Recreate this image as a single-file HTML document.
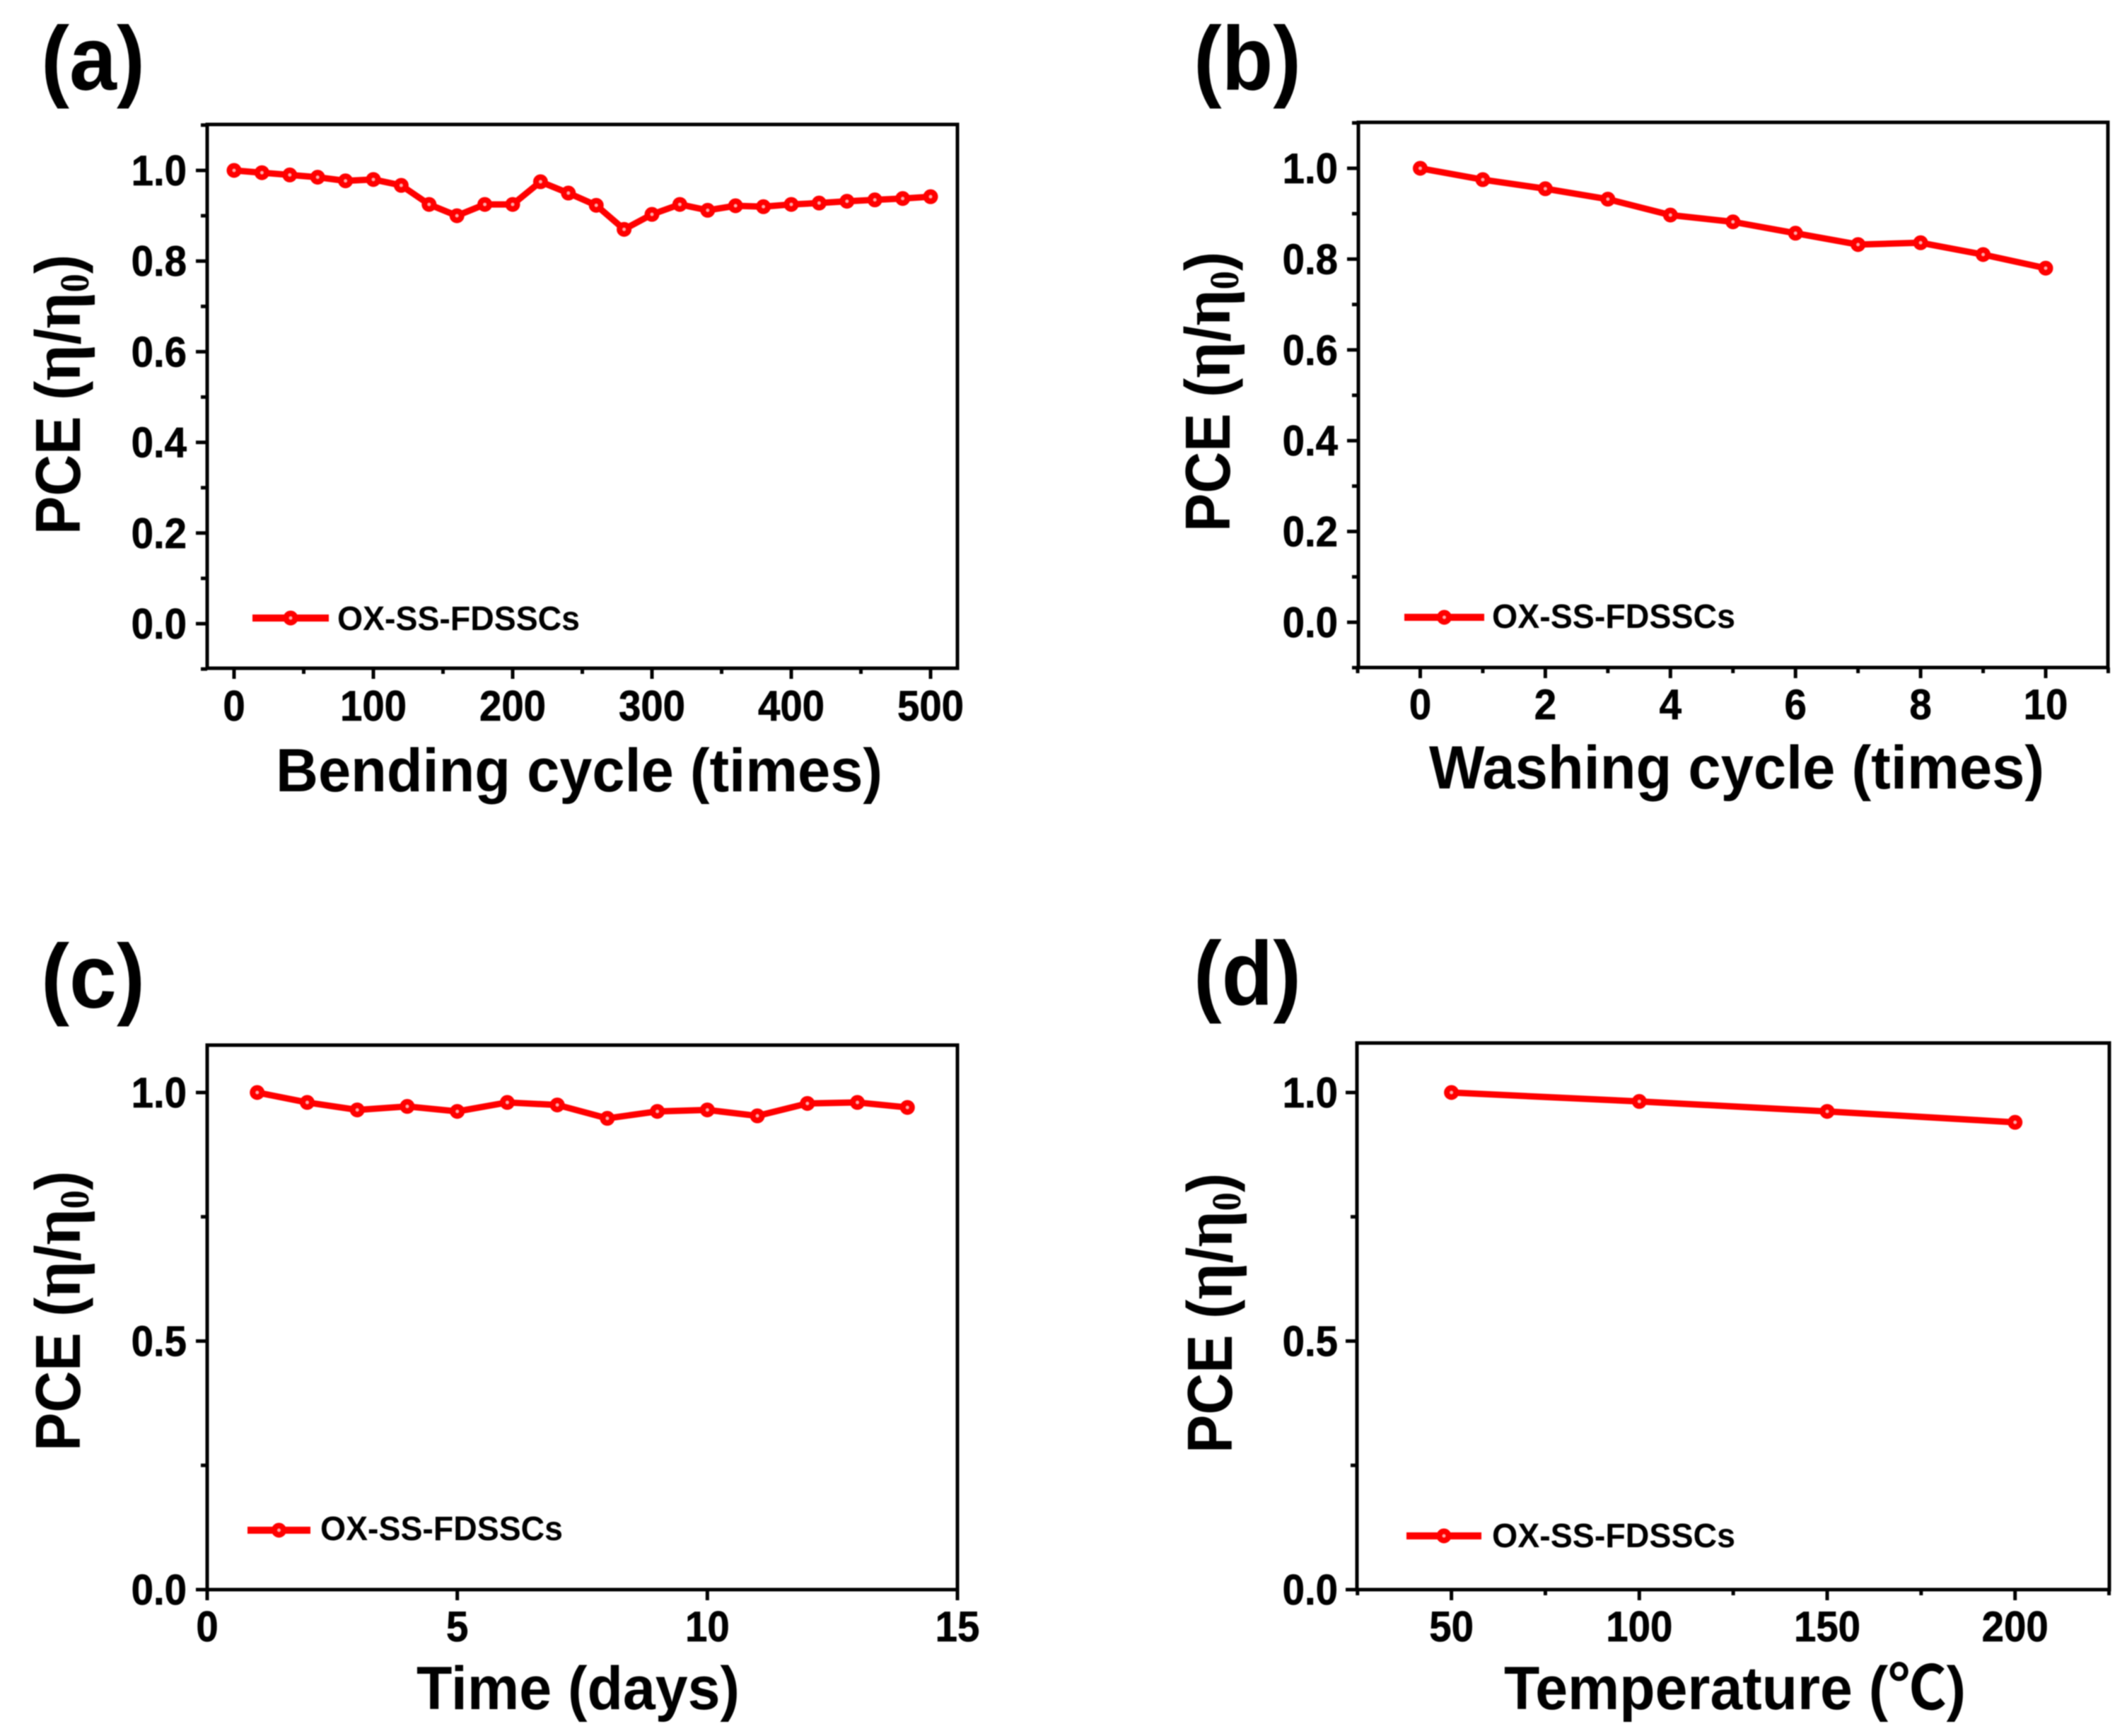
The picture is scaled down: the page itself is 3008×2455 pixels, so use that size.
<!DOCTYPE html>
<html lang="en">
<head>
<meta charset="utf-8">
<title>PCE stability of OX-SS-FDSSCs</title>
<style>
html,body{margin:0;padding:0;background:#fff;width:3008px;height:2455px;overflow:hidden}
svg{display:block;filter:blur(0.7px)}
text{font-family:"Liberation Sans","Noto Sans CJK SC",sans-serif;font-weight:700;fill:#000}
.panel-label{font-size:128px}
.axis-title{font-size:86px}
.y-title{font-size:90px}
.serif{font-family:"Liberation Serif","Noto Serif CJK SC",serif}
.tick-label{font-size:60px;stroke:#000;stroke-width:.7px}
.legend-text{font-size:48px}
</style>
</head>
<body>
<svg id="figure" xmlns="http://www.w3.org/2000/svg" width="3008" height="2455" viewBox="0 0 3008 2455">
  <rect x="0" y="0" width="3008" height="2455" fill="#fff"/>

  <text class="panel-label" x="58" y="127" textLength="147" lengthAdjust="spacingAndGlyphs">(a)</text>
  <text class="panel-label" x="1688" y="127" textLength="152" lengthAdjust="spacingAndGlyphs">(b)</text>
  <text class="panel-label" x="58" y="1425" textLength="147" lengthAdjust="spacingAndGlyphs">(c)</text>
  <text class="panel-label" x="1688" y="1421" textLength="152" lengthAdjust="spacingAndGlyphs">(d)</text>

  <text class="axis-title" x="390" y="1119" textLength="858" lengthAdjust="spacingAndGlyphs">Bending cycle (times)</text>
  <text class="axis-title" x="2021" y="1115" textLength="870" lengthAdjust="spacingAndGlyphs">Washing cycle (times)</text>
  <text class="axis-title" x="589" y="2417" textLength="457" lengthAdjust="spacingAndGlyphs">Time (days)</text>
  <text class="axis-title" x="2127" y="2417" textLength="653" lengthAdjust="spacingAndGlyphs">Temperature (℃)</text>

  <text class="y-title" transform="translate(113 756) rotate(-90)" textLength="396" lengthAdjust="spacingAndGlyphs">PCE (<tspan class="serif" font-size="100">η</tspan>/<tspan class="serif" font-size="100">η</tspan><tspan class="serif" font-size="58" dy="12">0</tspan><tspan dy="-12">)</tspan></text>
  <text class="y-title" transform="translate(1739 752) rotate(-90)" textLength="396" lengthAdjust="spacingAndGlyphs">PCE (<tspan class="serif" font-size="100">η</tspan>/<tspan class="serif" font-size="100">η</tspan><tspan class="serif" font-size="58" dy="12">0</tspan><tspan dy="-12">)</tspan></text>
  <text class="y-title" transform="translate(113 2052) rotate(-90)" textLength="396" lengthAdjust="spacingAndGlyphs">PCE (<tspan class="serif" font-size="100">η</tspan>/<tspan class="serif" font-size="100">η</tspan><tspan class="serif" font-size="58" dy="12">0</tspan><tspan dy="-12">)</tspan></text>
  <text class="y-title" transform="translate(1742 2055) rotate(-90)" textLength="396" lengthAdjust="spacingAndGlyphs">PCE (<tspan class="serif" font-size="100">η</tspan>/<tspan class="serif" font-size="100">η</tspan><tspan class="serif" font-size="58" dy="12">0</tspan><tspan dy="-12">)</tspan></text>

  <text class="legend-text" x="477" y="891" textLength="343" lengthAdjust="spacingAndGlyphs">OX-SS-FDSSCs</text>
  <text class="legend-text" x="2110" y="888" textLength="344" lengthAdjust="spacingAndGlyphs">OX-SS-FDSSCs</text>
  <text class="legend-text" x="453" y="2178" textLength="343" lengthAdjust="spacingAndGlyphs">OX-SS-FDSSCs</text>
  <text class="legend-text" x="2110" y="2188" textLength="344" lengthAdjust="spacingAndGlyphs">OX-SS-FDSSCs</text>
</svg>
<script>
// Panel (a) data
var bendingCycles = [0,20,40,60,80,100,120,140,160,180,200,220,240,260,280,300,320,340,360,380,400,420,440,460,480,500];
var bendingPce = [1.0,0.995,0.99,0.985,0.977,0.98,0.967,0.925,0.90,0.925,0.925,0.975,0.95,0.923,0.87,0.903,0.925,0.912,0.922,0.92,0.925,0.928,0.932,0.935,0.938,0.942];
var bendingXTicks = ['0','100','200','300','400','500'];
var bendingXMinor = [50,150,250,350,450];
var bendingYTicks = ['0.0','0.2','0.4','0.6','0.8','1.0'];
var bendingYMinor = [-0.1,0.1,0.3,0.5,0.7,0.9,1.1];

// Panel (b) data
var washingCycles = [0,1,2,3,4,5,6,7,8,9,10];
var washingPce = [1.0,0.975,0.955,0.932,0.897,0.882,0.857,0.832,0.836,0.81,0.78];
var washingXTicks = ['0','2','4','6','8','10'];
var washingXMinor = [-1,1,3,5,7,9,11];
var washingYTicks = ['0.0','0.2','0.4','0.6','0.8','1.0'];
var washingYMinor = [-0.1,0.1,0.3,0.5,0.7,0.9,1.1];

// Panel (c) data
var timeDays = [1,2,3,4,5,6,7,8,9,10,11,12,13,14];
var timePce = [1.0,0.98,0.965,0.972,0.962,0.98,0.975,0.948,0.962,0.965,0.953,0.978,0.98,0.97];
var timeXTicks = ['0','5','10','15'];
var timeXMinor = [];
var timeYTicks = ['0.0','0.5','1.0'];
var timeYMinor = [0.25,0.75];

// Panel (d) data
var temperatures = [50,100,150,200];
var temperaturePce = [1.0,0.982,0.962,0.94];
var temperatureXTicks = ['50','100','150','200'];
var temperatureXMinor = [25,75,125,175,225];
var temperatureYTicks = ['0.0','0.5','1.0'];
var temperatureYMinor = [0.25,0.75];

var svg = document.getElementById('figure');
var NS = 'http://www.w3.org/2000/svg';

function make(tag, attrs) {
  var el = document.createElementNS(NS, tag);
  for (var k in attrs) { el.setAttribute(k, attrs[k]); }
  svg.appendChild(el);
  return el;
}

function linearScale(d0, d1, p0, p1) {
  return function (v) { return p0 + (v - d0) * (p1 - p0) / (d1 - d0); };
}

function drawMarker(cx, cy, id) {
  var el = make('circle', {cx: cx, cy: cy, r: 6.5, fill: '#ffa8a8', stroke: '#ff0000', 'stroke-width': 8});
  
  
}

function drawPanel(p) {
  var x = linearScale(p.xd[0], p.xd[1], p.xp[0], p.xp[1]);
  var y = linearScale(p.yd[0], p.yd[1], p.yp[0], p.yp[1]);
  var el, i;

  el = make('rect', {x: p.left, y: p.top, width: p.right - p.left, height: p.bottom - p.top, fill: 'none', stroke: '#000', 'stroke-width': 5});
  
  

  p.xTicks.forEach(function (label) {
    var px = x(Number(label));
    var tick = make('line', {x1: px, x2: px, y1: p.bottom, y2: p.bottom + 15, stroke: '#000', 'stroke-width': 5});
    
    
    var t = make('text', {x: 0, y: 0, transform: 'translate(' + px + ' ' + p.xLabelY + ') scale(.94 1)', 'text-anchor': 'middle', 'class': 'tick-label'});
    
    
    t.textContent = label;
  });
  p.xMinor.forEach(function (v) {
    var px = x(v);
    var tick = make('line', {x1: px, x2: px, y1: p.bottom, y2: p.bottom + 8, stroke: '#000', 'stroke-width': 5});
    
    
  });
  p.yTicks.forEach(function (label) {
    var py = y(Number(label));
    var tick = make('line', {x1: p.left, x2: p.left - 16, y1: py, y2: py, stroke: '#000', 'stroke-width': 5});
    
    
    var t = make('text', {x: 0, y: 0, transform: 'translate(' + p.yLabelX + ' ' + (py + 21) + ') scale(.94 1)', 'text-anchor': 'end', 'class': 'tick-label'});
    
    
    t.textContent = label;
  });
  p.yMinor.forEach(function (v) {
    var py = y(v);
    var tick = make('line', {x1: p.left, x2: p.left - 9, y1: py, y2: py, stroke: '#000', 'stroke-width': 5});
    
    
  });

  var pts = p.xs.map(function (v, j) { return x(v) + ',' + y(p.ys[j]); }).join(' ');
  el = make('polyline', {points: pts, fill: 'none', stroke: '#ff0000', 'stroke-width': 9, 'stroke-linejoin': 'round'});
  
  
  for (i = 0; i < p.xs.length; i++) {
    drawMarker(x(p.xs[i]), y(p.ys[i]), p.id);
  }

  el = make('line', {x1: p.legend[0], x2: p.legend[1], y1: p.legend[2], y2: p.legend[2], stroke: '#ff0000', 'stroke-width': 10});
  
  
  drawMarker((p.legend[0] + p.legend[1]) / 2, p.legend[2], 'legend-' + p.id);
}

drawPanel({id: 'a', left: 293, right: 1354, top: 176, bottom: 945,
  xd: [0, 500], xp: [331, 1316], yd: [0, 1], yp: [882, 241],
  xs: bendingCycles, ys: bendingPce, xTicks: bendingXTicks, xMinor: bendingXMinor,
  yTicks: bendingYTicks, yMinor: bendingYMinor, xLabelY: 1019, yLabelX: 264,
  legend: [357, 465, 874]});
drawPanel({id: 'b', left: 1921, right: 2981, top: 173, bottom: 944,
  xd: [0, 10], xp: [2008.5, 2893], yd: [0, 1], yp: [880, 238],
  xs: washingCycles, ys: washingPce, xTicks: washingXTicks, xMinor: washingXMinor,
  yTicks: washingYTicks, yMinor: washingYMinor, xLabelY: 1017, yLabelX: 1892,
  legend: [1986, 2099, 873]});
drawPanel({id: 'c', left: 293, right: 1354, top: 1478, bottom: 2248,
  xd: [0, 15], xp: [293, 1354], yd: [0, 1], yp: [2248, 1545],
  xs: timeDays, ys: timePce, xTicks: timeXTicks, xMinor: timeXMinor,
  yTicks: timeYTicks, yMinor: timeYMinor, xLabelY: 2321, yLabelX: 264,
  legend: [350, 439, 2164]});
drawPanel({id: 'd', left: 1919, right: 2983, top: 1475, bottom: 2248,
  xd: [50, 200], xp: [2052.6, 2849.7], yd: [0, 1], yp: [2248, 1545],
  xs: temperatures, ys: temperaturePce, xTicks: temperatureXTicks, xMinor: temperatureXMinor,
  yTicks: temperatureYTicks, yMinor: temperatureYMinor, xLabelY: 2321, yLabelX: 1892,
  legend: [1989, 2095, 2172]});
</script>
</body>
</html>
